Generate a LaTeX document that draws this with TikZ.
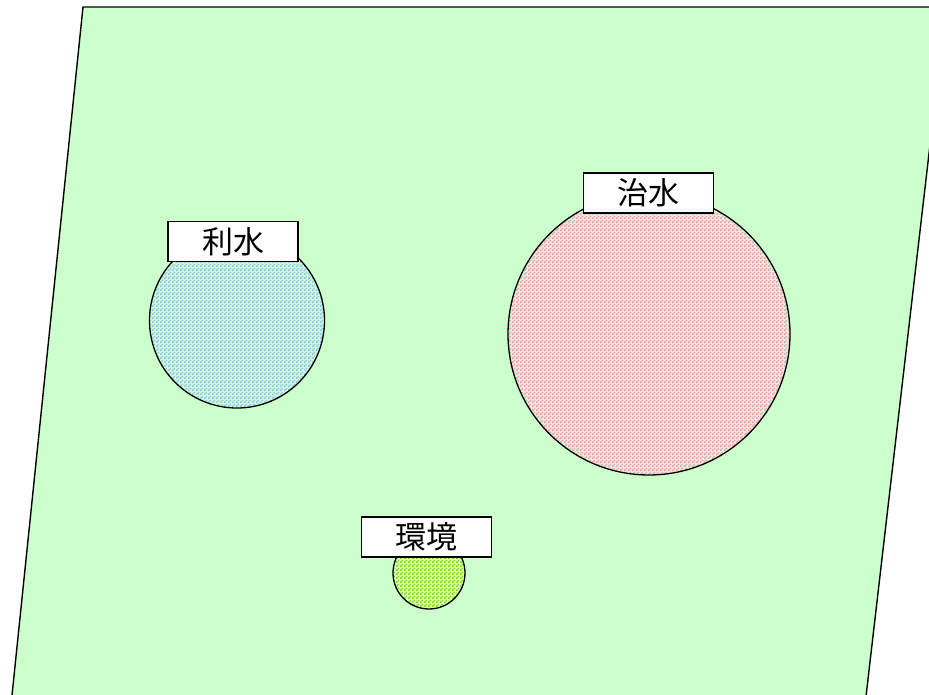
\documentclass[tikz,border=0pt]{standalone}
\usepackage{fontspec}
\newfontfamily\cjk{Noto Sans CJK JP}
\usetikzlibrary{patterns}
\pgfdeclarepatternformonly{checkdots}{\pgfpointorigin}{\pgfqpoint{4pt}{4pt}}{\pgfqpoint{4pt}{4pt}}{%
  \pgfpathrectangle{\pgfqpoint{0pt}{0pt}}{\pgfqpoint{2pt}{2pt}}%
  \pgfpathrectangle{\pgfqpoint{2pt}{2pt}}{\pgfqpoint{2pt}{2pt}}%
  \pgfusepath{fill}}
\definecolor{bggreen}{HTML}{CCFFCC}
\definecolor{riblue}{HTML}{8FC0FF}
\definecolor{chipink}{HTML}{FF8FC8}
\definecolor{kangreen}{HTML}{99CC00}
\tikzset{
  lab/.style={draw=black, line width=1.3pt, fill=white, minimum width=130pt, minimum height=40pt, inner sep=0pt, font=\cjk\fontsize{31}{31}\selectfont},
  outline/.style={draw=black, line width=1.3pt}
}
\begin{document}
\begin{tikzpicture}[x=1pt,y=-1pt]
\useasboundingbox (0,0) rectangle (929,695);
\clip (0,0) rectangle (929,695);
\fill[white] (0,0) rectangle (929,695);
\draw[line width=1.4pt, fill=bggreen] (83,7) -- (946,7) -- (865,705) -- (11,705) -- cycle;
% circles
\fill[bggreen] (237,320.5) circle (87.5);
\fill[pattern=checkdots, pattern color=riblue] (237,320.5) circle (87.5);
\draw[outline] (237,320.5) circle (87.5);
\fill[bggreen] (649,334) circle (141);
\fill[pattern=checkdots, pattern color=chipink] (649,334) circle (141);
\draw[outline] (649,334) circle (141);
\fill[bggreen] (429,573) circle (36);
\fill[pattern=checkdots, pattern color=kangreen] (429,573) circle (36);
\draw[outline] (429,573) circle (36);
% labels
\node[lab] (risui) at (233,241.5) {利水};
\node[lab] (chisui) at (648.5,193) {治水};
\node[lab] (kankyo) at (426.5,537) {環境};
\end{tikzpicture}
\end{document}
